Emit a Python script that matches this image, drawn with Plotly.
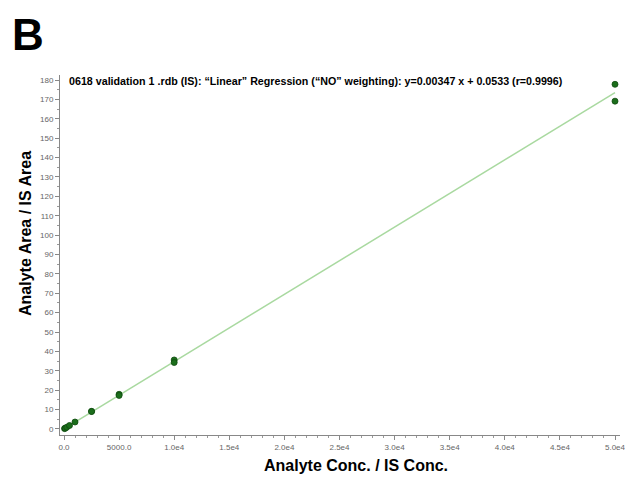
import plotly.graph_objects as go

# Calibration standards (analyte conc / IS conc) and measured area ratios
conc = [50, 100, 250, 500, 1000, 2500, 2500, 5000, 5000, 10000, 10000, 50000, 50000]
area_ratio = [0.2, 0.4, 0.9, 1.8, 3.6, 9.1, 9.0, 17.9, 17.3, 35.6, 34.3, 177.8, 169.1]

slope = 0.00347
intercept = 0.0533

title_text = ("0618 validation 1 .rdb (IS): \u201cLinear\u201d Regression (\u201cNO\u201d weighting): "
              "y=0.00347 x + 0.0533 (r=0.9996)")

x_tickvals = [0, 5000, 10000, 15000, 20000, 25000, 30000, 35000, 40000, 45000, 50000]
x_ticktext = ["0.0", "5000.0", "1.0e4", "1.5e4", "2.0e4", "2.5e4", "3.0e4", "3.5e4", "4.0e4", "4.5e4", "5.0e4"]
y_tickvals = list(range(0, 181, 10))

line_x = [0, max(conc)]
line_y = [slope * v + intercept for v in line_x]

FONT = "Liberation Sans, Arial, sans-serif"
L, R, T, B = 60, 5, 75, 43
W, H = 625, 478

fig = go.Figure()
fig.add_trace(go.Scatter(x=line_x, y=line_y, mode="lines",
                         line=dict(color="#a9d9a0", width=1.5), hoverinfo="skip"))
fig.add_trace(go.Scatter(x=conc, y=area_ratio, mode="markers",
                         marker=dict(color="#1b6e1b", size=6,
                                     line=dict(color="#0f4a0f", width=0.8))))

tickfont = dict(family=FONT, size=8, color="#666666")

plot_w = W - L - R
plot_h = H - T - B
def px_x(px):
    return (px - L) / plot_w
def px_y(py):
    return (H - B - py) / plot_h

fig.update_layout(
    width=W, height=H,
    margin=dict(l=L, r=R, t=T, b=B, autoexpand=False),
    paper_bgcolor="white", plot_bgcolor="white",
    showlegend=False,
    xaxis=dict(range=[-363, 50454], tickvals=x_tickvals, ticktext=x_ticktext,
               showgrid=False, zeroline=False, showline=True, linecolor="#888888", linewidth=1,
               ticks="outside", ticklen=4, tickcolor="#888888", tickfont=tickfont,
               ticklabeloverflow="allow", automargin=False,
               minor=dict(dtick=1000, tick0=0, ticks="outside", ticklen=2, tickcolor="#999999")),
    yaxis=dict(range=[-3.1, 182.6], tickvals=y_tickvals, automargin=False,
               showgrid=False, zeroline=False, showline=True, linecolor="#888888", linewidth=1,
               ticks="outside", ticklen=4, tickcolor="#888888", tickfont=tickfont,
               minor=dict(dtick=5, tick0=0, ticks="outside", ticklen=2, tickcolor="#999999")),
    annotations=[
        dict(text="<b>B</b>", x=px_x(10), y=px_y(8), xref="paper", yref="paper", showarrow=False,
             font=dict(family=FONT, size=44, color="black"),
             xanchor="left", yanchor="top"),
        dict(text="<b>" + title_text + "</b>", xref="paper", yref="paper",
             x=px_x(67), y=px_y(73), showarrow=False, xanchor="left", yanchor="top",
             font=dict(family=FONT, size=10.7, color="black")),
        dict(text="<b>Analyte Area / IS Area</b>", xref="paper", yref="paper",
             x=px_x(25), y=px_y(234), showarrow=False, textangle=-90,
             xanchor="center", yanchor="middle",
             font=dict(family=FONT, size=16, color="black")),
        dict(text="<b>Analyte Conc. / IS Conc.</b>", xref="paper", yref="paper",
             x=px_x(356), y=px_y(465), showarrow=False,
             xanchor="center", yanchor="middle",
             font=dict(family=FONT, size=16, color="black")),
    ],
)

fig.write_html("out.html")
